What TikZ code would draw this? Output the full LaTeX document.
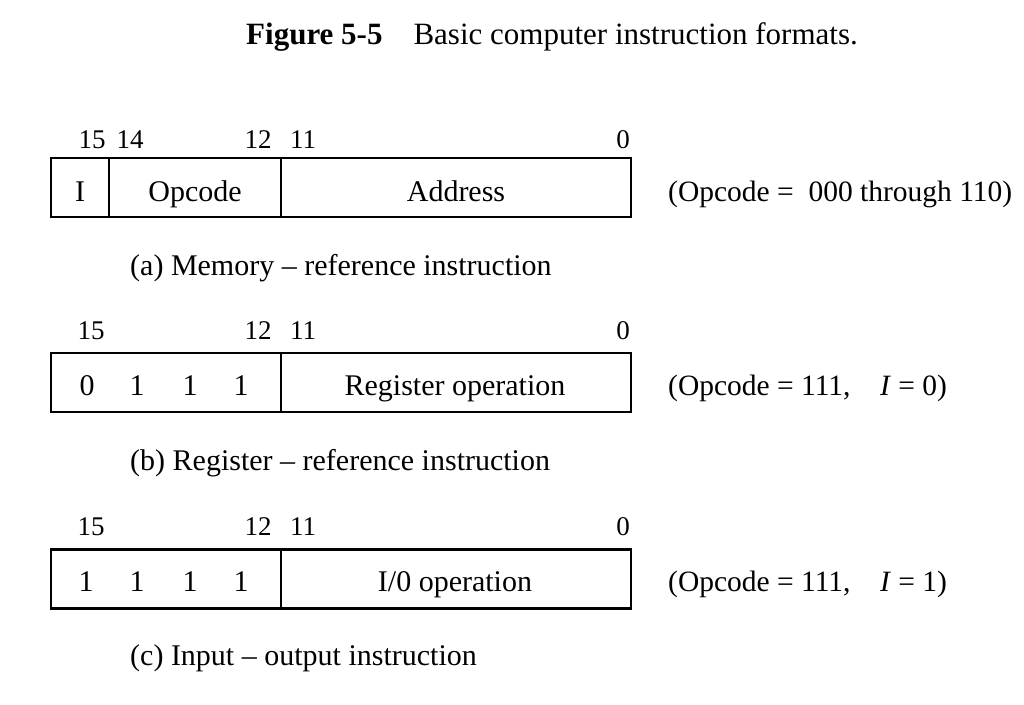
\documentclass[tikz,border=0pt]{standalone}
\usepackage{fontspec}
\setmainfont{Liberation Serif}
\usetikzlibrary{positioning}

\begin{document}
\begin{tikzpicture}[x=1pt, y=-1pt,
    field/.style={draw, line width=2.6pt, minimum height=59pt, inner sep=0pt},
    fieldtext/.style={font=\fontsize{30}{34}\selectfont, anchor=base, inner sep=0pt},
    bitno/.style={font=\fontsize{27}{32}\selectfont, inner sep=0pt},
    note/.style={font=\fontsize{29.5}{34}\selectfont, anchor=base west, inner sep=0pt},
    caption/.style={font=\fontsize{30}{34}\selectfont, anchor=west, inner sep=0pt}]
    \useasboundingbox[fill=white] (0,0) rectangle (1024,704);

    \node[font=\fontsize{31}{36}\selectfont] (title) at (552,37)
        {\textbf{Figure 5-5}\quad Basic computer instruction formats.};

    % (a) memory-reference
    \node[bitno] (a15) at (92,140) {15};
    \node[bitno] (a14) at (130,140) {14};
    \node[bitno] (a12) at (258,140) {12};
    \node[bitno] (a11) at (303,140) {11};
    \node[bitno] (a0) at (623,140) {0};
    \node[field, minimum width=58pt] (aind) at (80,187.5) {};
    \node[field, minimum width=172pt] (aop) at (195,187.5) {};
    \node[field, minimum width=350pt] (aadr) at (456,187.5) {};
    \node[fieldtext] at (80,201) {I};
    \node[fieldtext] at (195,201) {Opcode};
    \node[fieldtext] at (456,201) {Address};
    \node[note] (anote) at (668,201) {(Opcode = \ 000 through 110)};
    \node[caption] (acap) at (130,268) {(a) Memory -- reference instruction};

    % (b) register-reference
    \node[bitno] (b15) at (91,331) {15};
    \node[bitno] (b12) at (258,331) {12};
    \node[bitno] (b11) at (303,331) {11};
    \node[bitno] (b0) at (623,331) {0};
    \node[field, minimum width=230pt] (bop) at (166,382.5) {};
    \node[field, minimum width=350pt] (breg) at (456,382.5) {};
    \node[fieldtext] at (87,395) {0};
    \node[fieldtext] at (137,395) {1};
    \node[fieldtext] at (190,395) {1};
    \node[fieldtext] at (241,395) {1};
    \node[fieldtext] at (455,395) {Register operation};
    \node[note] (bnote) at (668,395) {(Opcode = 111,\quad \textit{I} = 0)};
    \node[caption] (bcap) at (130,463) {(b) Register -- reference instruction};

    % (c) input-output
    \node[bitno] (c15) at (91,527) {15};
    \node[bitno] (c12) at (258,527) {12};
    \node[bitno] (c11) at (303,527) {11};
    \node[bitno] (c0) at (623,527) {0};
    \node[field, minimum width=230pt] (cop) at (166,579) {};
    \node[field, minimum width=350pt] (cio) at (456,579) {};
    \node[fieldtext] at (86,591) {1};
    \node[fieldtext] at (137,591) {1};
    \node[fieldtext] at (190,591) {1};
    \node[fieldtext] at (241,591) {1};
    \node[fieldtext] at (455,591) {I/0 operation};
    \node[note] (cnote) at (668,591) {(Opcode = 111,\quad \textit{I} = 1)};
    \node[caption] (ccap) at (130,658) {(c) Input -- output instruction};
\end{tikzpicture}
\end{document}
